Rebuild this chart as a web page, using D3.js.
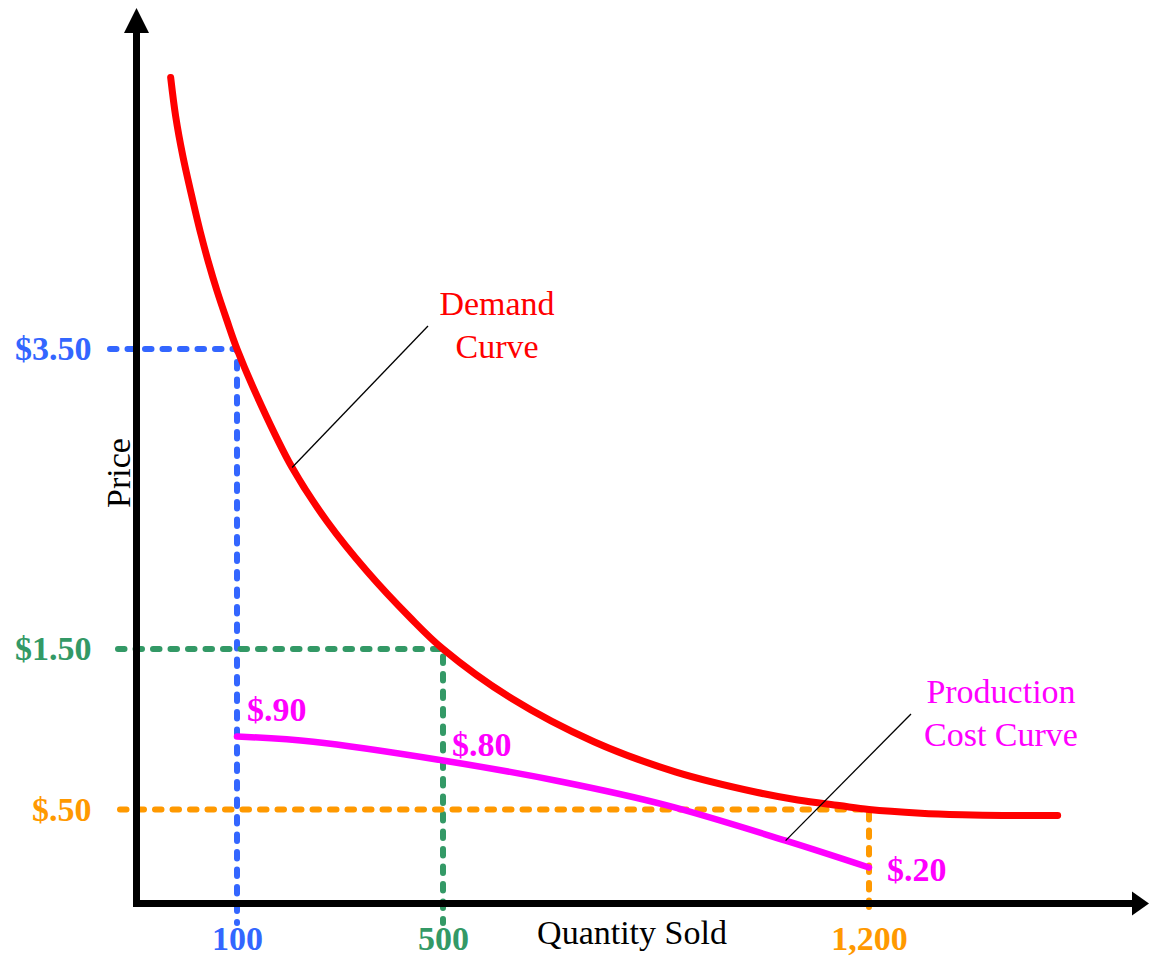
<!DOCTYPE html>
<html>
<head>
<meta charset="utf-8">
<script src="https://cdn.jsdelivr.net/npm/d3@7"></script>
<style>
  html, body { margin: 0; padding: 0; background: #ffffff; }
  svg { display: block; }
</style>
</head>
<body>
<svg id="chart" width="1149" height="956"></svg>
<script>
// ---- Data ----------------------------------------------------------------
// Demand curve: quantity sold vs. price
const demandQty   = [34, 39, 46, 56, 63.5, 71.5, 80, 90, 100, 145, 207, 275, 352, 436, 500, 613, 748, 883, 1017, 1083, 1151, 1200, 1285, 1353, 1420, 1510];
const demandPrice = [5.31, 5.05, 4.79, 4.49, 4.28, 4.08, 3.89, 3.69, 3.5, 3.14, 2.71, 2.35, 2.02, 1.71, 1.5, 1.16, 0.878, 0.729, 0.604, 0.558, 0.524, 0.5, 0.481, 0.473, 0.469, 0.469];

// Production cost curve: quantity vs. unit cost
const costQty   = [100, 248, 500, 695, 865, 1063, 1200];
const costPrice = [0.9, 0.878, 0.8, 0.67, 0.528, 0.339, 0.2];

// Reference points on the demand curve (quantity, price)
const guideQty   = [100, 500, 1200];
const guidePrice = [3.5, 1.5, 0.5];

// Values called out on the cost curve
const costLabelQty   = [100, 500, 1200];
const costLabelPrice = [0.9, 0.8, 0.2];

// Axis tick labels
const quantityTicks = [100, 500, 1200];
const priceTicks    = [3.5, 1.5, 0.5];

// ---- Styles --------------------------------------------------------------
const guideColors = ["#3366ff", "#339966", "#ff9900"];
const demandColor = "#ff0000";
const costColor   = "#ff00ff";
const serif = "'Liberation Serif', 'Times New Roman', Times, serif";
const fontSize = 34;

const svg = d3.select("#chart");

// Schematic (piecewise) scales
const x = d3.scaleLinear()
  .domain([0, 100, 500, 1200])
  .range([136.5, 237, 443, 869]);

const y = d3.scaleLinear()
  .domain([0, 0.2, 0.5, 0.8, 0.9, 1.5, 3.5])
  .range([903.5, 867.5, 809.5, 760.5, 736.5, 649, 349]);

const axisY = y(0);
const axisX = x(0);

// ---- Dashed guide lines --------------------------------------------------
const guideLeft = [110, 118, 120];
const guideBottom = [923, 923, 912];
svg.append("g")
  .selectAll("path")
  .data(guideQty.map((q, i) => ({ q, p: guidePrice[i], i })))
  .join("path")
  .attr("d", d => `M${guideLeft[d.i]},${y(d.p)}H${x(d.q)}V${guideBottom[d.i]}`)
  .attr("fill", "none")
  .attr("stroke", d => guideColors[d.i])
  .attr("stroke-width", 6)
  .attr("stroke-linecap", "round")
  .attr("stroke-linejoin", "round")
  .attr("stroke-dasharray", "6.5 11");

// ---- Curves --------------------------------------------------------------
const line = d3.line()
  .x(d => x(d[0]))
  .y(d => y(d[1]))
  .curve(d3.curveCatmullRom.alpha(0.5));

svg.append("path")
  .datum(demandQty.map((q, i) => [q, demandPrice[i]]))
  .attr("d", line)
  .attr("fill", "none")
  .attr("stroke", demandColor)
  .attr("stroke-width", 7)
  .attr("stroke-linecap", "round");

svg.append("path")
  .datum(costQty.map((q, i) => [q, costPrice[i]]))
  .attr("d", line)
  .attr("fill", "none")
  .attr("stroke", costColor)
  .attr("stroke-width", 6.5)
  .attr("stroke-linecap", "round");

// ---- Axes ----------------------------------------------------------------
svg.append("line")
  .attr("x1", axisX).attr("y1", axisY + 3.5)
  .attr("x2", axisX).attr("y2", 30)
  .attr("stroke", "#000").attr("stroke-width", 7);
svg.append("path")
  .attr("d", `M${axisX},8L${axisX - 12.5},33L${axisX + 12.5},33Z`)
  .attr("fill", "#000");

svg.append("line")
  .attr("x1", axisX - 3.5).attr("y1", axisY)
  .attr("x2", 1135).attr("y2", axisY)
  .attr("stroke", "#000").attr("stroke-width", 7);
svg.append("path")
  .attr("d", `M1149,${axisY}L1132,${axisY - 12}L1132,${axisY + 12}Z`)
  .attr("fill", "#000");

const xAxis = svg.append("g")
  .attr("transform", `translate(0,${axisY})`)
  .call(d3.axisBottom(x)
    .tickValues(quantityTicks)
    .tickSize(0)
    .tickPadding(22)
    .tickFormat(d3.format(",")));
xAxis.select(".domain").remove();
xAxis.selectAll("text")
  .attr("font-family", serif)
  .attr("font-size", fontSize)
  .attr("font-weight", "bold")
  .attr("fill", (d, i) => guideColors[i]);

const priceFormat = p => "$" + d3.format(".2f")(p).replace(/^0/, "");
const yAxis = svg.append("g")
  .attr("transform", `translate(${axisX},0)`)
  .call(d3.axisLeft(y)
    .tickValues(priceTicks)
    .tickSize(0)
    .tickPadding(45)
    .tickFormat(priceFormat));
yAxis.select(".domain").remove();
yAxis.selectAll("text")
  .attr("font-family", serif)
  .attr("font-size", fontSize)
  .attr("font-weight", "bold")
  .attr("fill", (d, i) => guideColors[i]);

// Axis titles
svg.append("text")
  .attr("x", 632).attr("y", 944)
  .attr("text-anchor", "middle")
  .attr("font-family", serif).attr("font-size", fontSize)
  .attr("fill", "#000")
  .text("Quantity Sold");

svg.append("text")
  .attr("transform", "translate(130,473) rotate(-90)")
  .attr("text-anchor", "middle")
  .attr("font-family", serif).attr("font-size", fontSize)
  .attr("fill", "#000")
  .text("Price");

// ---- Cost value labels ---------------------------------------------------
const costLabelOffset = [[10, -16], [9, -5], [18, 13]];
svg.append("g")
  .selectAll("text")
  .data(costLabelQty.map((q, i) => ({ q, p: costLabelPrice[i], i })))
  .join("text")
  .attr("x", d => x(d.q) + costLabelOffset[d.i][0])
  .attr("y", d => y(d.p) + costLabelOffset[d.i][1])
  .attr("font-family", serif).attr("font-size", fontSize).attr("font-weight", "bold")
  .attr("fill", costColor)
  .text(d => priceFormat(d.p));

// ---- Curve callouts ------------------------------------------------------
const callouts = [
  { q: 207, p: 2.71, end: [428, 326], lines: ["Demand", "Curve"], cx: 497, top: 315, color: demandColor },
  { q: 1063, p: 0.339, end: [911, 714], lines: ["Production", "Cost Curve"], cx: 1001, top: 703, color: costColor }
];

callouts.forEach(c => {
  svg.append("line")
    .attr("x1", x(c.q)).attr("y1", y(c.p))
    .attr("x2", c.end[0]).attr("y2", c.end[1])
    .attr("stroke", "#000").attr("stroke-width", 1.3);
  const t = svg.append("text")
    .attr("text-anchor", "middle")
    .attr("font-family", serif).attr("font-size", fontSize)
    .attr("fill", c.color);
  c.lines.forEach((s, i) => {
    t.append("tspan").attr("x", c.cx).attr("y", c.top + i * 43).text(s);
  });
});
</script>
</body>
</html>
